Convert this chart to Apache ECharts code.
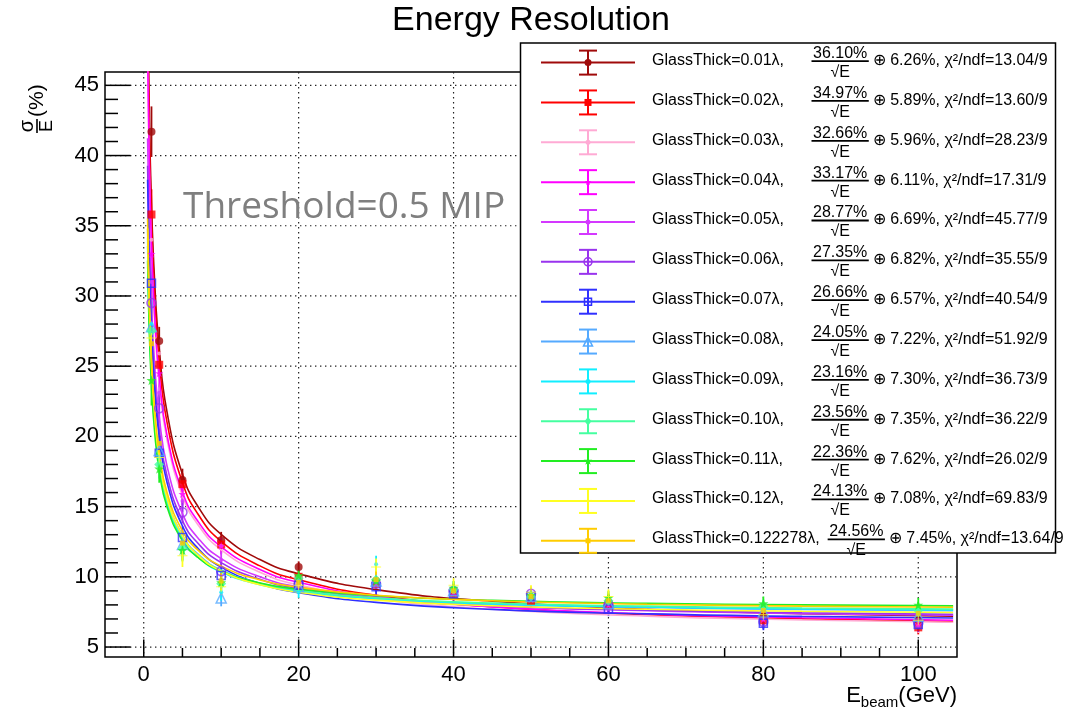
<!DOCTYPE html>
<html>
<head>
<meta charset="utf-8">
<script src="https://cdn.jsdelivr.net/npm/echarts/dist/echarts.min.js"></script>
<style>
html,body{margin:0;padding:0;background:#fff;}
#chart{width:1066px;height:711px;}
</style>
</head>
<body>
<div id="chart"></div>
<script>
// ---------------- DATA ----------------
const energies = [1, 2, 5, 10, 20, 30, 40, 50, 60, 80, 100];
const errBars = [1.8, 1.0, 0.8, 0.6, 0.4, 0.6, 0.5, 0.5, 0.5, 0.5, 0.5];

const thickLabels = ['0.01', '0.02', '0.03', '0.04', '0.05', '0.06', '0.07', '0.08', '0.09', '0.10', '0.11', '0.12', '0.122278'];
const stochTerms = ['36.10', '34.97', '32.66', '33.17', '28.77', '27.35', '26.66', '24.05', '23.16', '23.56', '22.36', '24.13', '24.56'];
const constTerms = ['6.26', '5.89', '5.96', '6.11', '6.69', '6.82', '6.57', '7.22', '7.30', '7.35', '7.62', '7.08', '7.45'];
const chi2Values = ['13.04', '13.60', '28.23', '17.31', '45.77', '35.55', '40.54', '51.92', '36.73', '36.22', '26.02', '69.83', '13.64'];

// measured points (sigma/E in %) at each beam energy
const pts001 = [41.7, 26.8, 16.9, 12.6, 10.7, 9.7, 9.0, 8.5, 8.2, 7.2, 6.9];
const pts002 = [35.8, 25.1, 16.6, 12.3, 10.0, 9.5, 8.8, 8.3, 8.0, 6.9, 6.4];
const pts003 = [34.0, 25.9, 15.9, 12.2, 9.9, 9.6, 8.9, 8.4, 8.0, 7.0, 6.5];
const pts004 = [33.0, 24.5, 15.9, 12.2, 9.8, 9.5, 8.9, 8.4, 8.0, 7.0, 6.6];
const pts005 = [31.0, 23.1, 15.4, 11.2, 9.6, 9.6, 9.0, 8.7, 8.1, 7.0, 6.8];
const pts006 = [29.5, 22.0, 14.6, 10.4, 9.5, 9.5, 9.0, 8.8, 8.0, 6.8, 6.7];
const pts007 = [30.9, 18.8, 12.8, 10.1, 9.4, 9.3, 8.8, 8.6, 7.7, 6.7, 6.6];
const pts008 = [27.8, 19.0, 12.3, 8.5, 9.3, 9.7, 9.0, 8.6, 8.1, 7.5, 7.2];
const pts009 = [28.0, 18.5, 12.2, 8.9, 8.9, 10.9, 9.2, 8.7, 8.3, 7.6, 7.3];
const pts010 = [27.5, 18.0, 12.0, 9.5, 9.9, 9.8, 9.1, 8.6, 8.3, 7.9, 7.6];
const pts011 = [24.0, 17.7, 11.9, 9.6, 10.1, 9.7, 9.2, 8.7, 8.5, 8.1, 8.0];
const pts012 = [27.0, 18.5, 11.5, 9.3, 9.4, 10.7, 9.4, 8.9, 8.6, 7.3, 6.9];
const pts013 = [26.6, 19.5, 12.4, 9.7, 9.6, 9.8, 9.0, 8.6, 8.3, 7.6, 7.4];

// fit curves read at these beam energies
const fitE = [0.5, 0.7, 1, 1.4, 2, 3, 5, 7, 10, 15, 20, 30, 45, 65, 85, 104.5];
const fit001 = [51.44, 43.60, 36.64, 31.15, 26.28, 21.76, 17.31, 15.01, 13.02, 11.23, 10.22, 9.09, 8.26, 7.69, 7.38, 7.19];
const fit002 = [49.80, 42.21, 35.46, 30.14, 25.42, 21.03, 16.71, 14.47, 12.53, 10.78, 9.79, 8.69, 7.87, 7.31, 7.01, 6.81];
const fit003 = [46.57, 39.49, 33.20, 28.24, 23.85, 19.78, 15.77, 13.71, 11.92, 10.32, 9.42, 8.43, 7.69, 7.20, 6.93, 6.76];
const fit004 = [47.30, 40.11, 33.73, 28.69, 24.24, 20.10, 16.04, 13.95, 12.14, 10.52, 9.61, 8.60, 7.86, 7.36, 7.09, 6.91];
const fit005 = [41.23, 35.03, 29.54, 25.22, 21.42, 17.91, 14.50, 12.77, 11.30, 10.00, 9.28, 8.51, 7.95, 7.58, 7.38, 7.26];
const fit006 = [39.27, 33.39, 28.19, 24.10, 20.51, 17.20, 14.00, 12.39, 11.01, 9.82, 9.16, 8.45, 7.94, 7.62, 7.44, 7.33];
const fit007 = [38.27, 32.54, 27.46, 23.47, 19.96, 16.74, 13.62, 12.03, 10.69, 9.52, 8.87, 8.18, 7.68, 7.36, 7.18, 7.07];
const fit008 = [34.77, 29.64, 25.11, 21.57, 18.47, 15.65, 12.95, 11.61, 10.48, 9.52, 9.00, 8.45, 8.06, 7.81, 7.67, 7.59];
const fit009 = [33.56, 28.63, 24.28, 20.89, 17.93, 15.23, 12.67, 11.40, 10.34, 9.44, 8.95, 8.44, 8.07, 7.85, 7.72, 7.64];
const fit010 = [34.12, 29.10, 24.68, 21.22, 18.21, 15.46, 12.85, 11.55, 10.46, 9.54, 9.04, 8.51, 8.14, 7.91, 7.78, 7.70];
const fit011 = [32.53, 27.79, 23.62, 20.38, 17.55, 14.99, 12.57, 11.38, 10.40, 9.56, 9.12, 8.65, 8.32, 8.11, 8.00, 7.93];
const fit012 = [34.85, 29.70, 25.15, 21.59, 18.47, 15.63, 12.91, 11.55, 10.41, 9.43, 8.90, 8.34, 7.94, 7.69, 7.55, 7.46];
const fit013 = [35.52, 30.29, 25.67, 22.05, 18.90, 16.02, 13.27, 11.90, 10.76, 9.78, 9.26, 8.69, 8.30, 8.05, 7.91, 7.83];

// axis ticks
const xMajorTicks = [0, 20, 40, 60, 80, 100];
const xMinorTicks = [5, 10, 15, 25, 30, 35, 45, 50, 55, 65, 70, 75, 85, 90, 95];
const yMajorTicks = [5, 10, 15, 20, 25, 30, 35, 40, 45];
const yMinorTicks = [6, 7, 8, 9, 11, 12, 13, 14, 16, 17, 18, 19, 21, 22, 23, 24, 26, 27, 28, 29, 31, 32, 33, 34, 36, 37, 38, 39, 41, 42, 43, 44];

const pointSets = [pts001, pts002, pts003, pts004, pts005, pts006, pts007, pts008, pts009, pts010, pts011, pts012, pts013];
const fitSets = [fit001, fit002, fit003, fit004, fit005, fit006, fit007, fit008, fit009, fit010, fit011, fit012, fit013];

// ---------------- STYLE ----------------
const colors = ['#a00a0a', '#ff0000', '#ffaad4', '#ff00ff', '#d438ff', '#9933ee', '#3030ff', '#55aaff', '#11eeff', '#44ffa0', '#22ee22', '#ffff22', '#ffcc00'];
const markerStyles = [
  {shape: 'circle', size: 8},
  {shape: 'rect', size: 8},
  {shape: 'circle', size: 4},
  {shape: 'star', size: 8},
  {shape: 'circle', size: 4},
  {shape: 'circle', size: 9, open: true},
  {shape: 'rect', size: 8, open: true},
  {shape: 'triangle', size: 10, open: true},
  {shape: 'circle', size: 4},
  {shape: 'diamond', size: 10},
  {shape: 'star', size: 10},
  {shape: 'plus', size: 10},
  {shape: 'rect', size: 5}
];
const FONT = "'Liberation Sans', Arial, Helvetica, sans-serif";
const X_MIN = -5, X_MAX = 105, Y_MIN = 4.29, Y_MAX = 45.95;
const G = {left: 105, top: 72, width: 852, height: 585};

const STAR_PATH = 'path://M0,-10L2.35,-3.24L9.51,-3.09L3.8,1.24L5.88,8.09L0,4L-5.88,8.09L-3.8,1.24L-9.51,-3.09L-2.35,-3.24Z';
const PLUS_PATH = 'path://M-1,-10L1,-10L1,-1L10,-1L10,1L1,1L1,10L-1,10L-1,1L-10,1L-10,-1L-1,-1Z';
function ecSymbol(s) {
  if (s === 'star') return STAR_PATH;
  if (s === 'plus') return PLUS_PATH;
  return s;
}

const mctx = document.createElement('canvas').getContext('2d');
function textW(t, size) { mctx.font = size + 'px ' + FONT; return mctx.measureText(t).width; }

// ---------------- SERIES ----------------
const series = [];

function tickSeries(values, kind) {
  return {
    type: 'custom', silent: true, clip: false, z: 1,
    data: values.map(v => kind[0] === 'x' ? [v, Y_MIN] : [X_MIN, v]),
    encode: {x: 0, y: 1},
    renderItem: function (params, api) {
      const children = [];
      if (kind === 'xMajor' || kind === 'xMinor') {
        const v = api.value(0);
        const b = api.coord([v, Y_MIN]);
        const t = api.coord([v, Y_MAX]);
        if (kind === 'xMajor') {
          children.push({type: 'line', shape: {x1: b[0], y1: t[1], x2: b[0], y2: b[1]}, style: {stroke: '#222', lineWidth: 1.2, lineDash: [1.4, 3.6]}});
          children.push({type: 'line', shape: {x1: b[0], y1: b[1], x2: b[0], y2: b[1] - 17.5}, style: {stroke: '#000', lineWidth: 1.5}});
          children.push({type: 'text', x: b[0], y: 675, style: {text: String(v), fontSize: 22, fontFamily: FONT, fill: '#000', align: 'center', verticalAlign: 'middle'}});
        } else {
          children.push({type: 'line', shape: {x1: b[0], y1: b[1], x2: b[0], y2: b[1] - 9}, style: {stroke: '#000', lineWidth: 1.5}});
        }
      } else {
        const v = api.value(1);
        const l = api.coord([X_MIN, v]);
        const r = api.coord([X_MAX, v]);
        if (kind === 'yMajor') {
          children.push({type: 'line', shape: {x1: l[0], y1: l[1], x2: r[0], y2: l[1]}, style: {stroke: '#222', lineWidth: 1.2, lineDash: [1.4, 3.6]}});
          children.push({type: 'line', shape: {x1: l[0], y1: l[1], x2: l[0] + 25.5, y2: l[1]}, style: {stroke: '#000', lineWidth: 1.5}});
          children.push({type: 'text', x: 99, y: l[1], style: {text: String(v), fontSize: 22, fontFamily: FONT, fill: '#000', align: 'right', verticalAlign: 'middle'}});
        } else {
          children.push({type: 'line', shape: {x1: l[0], y1: l[1], x2: l[0] + 13, y2: l[1]}, style: {stroke: '#000', lineWidth: 1.5}});
        }
      }
      return {type: 'group', children: children};
    }
  };
}
series.push(tickSeries(xMajorTicks, 'xMajor'));
series.push(tickSeries(xMinorTicks, 'xMinor'));
series.push(tickSeries(yMajorTicks, 'yMajor'));
series.push(tickSeries(yMinorTicks, 'yMinor'));

pointSets.forEach(function (pts, i) {
  const c = colors[i];
  const m = markerStyles[i];
  series.push({
    type: 'line', name: 'fit' + i, silent: true, z: 3,
    data: fitE.map((e, k) => [e, fitSets[i][k]]),
    showSymbol: false, smooth: 0.5,
    lineStyle: {color: c, width: 1.6}, itemStyle: {color: c}
  });
  series.push({
    type: 'custom', silent: true, z: 3,
    data: energies.map((e, k) => [e, pts[k], errBars[k]]),
    encode: {x: 0, y: 1},
    renderItem: function (params, api) {
      const x = api.value(0), y = api.value(1), er = api.value(2);
      const a = api.coord([x, y - er]), b = api.coord([x, y + er]);
      return {type: 'line', shape: {x1: a[0], y1: a[1], x2: b[0], y2: b[1]}, style: {stroke: c, lineWidth: 1.8}};
    }
  });
  series.push({
    type: 'scatter', silent: true, z: 3,
    data: energies.map((e, k) => [e, pts[k]]),
    symbol: ecSymbol(m.shape), symbolSize: m.size,
    itemStyle: m.open ? {color: 'rgba(255,255,255,0)', borderColor: c, borderWidth: 1.5} : {color: c}
  });
});

// ---------------- GRAPHIC (titles, legend) ----------------
const graphic = [];
graphic.push({type: 'text', x: 531, y: 21, z: 50, style: {text: 'Energy Resolution', fontSize: 34, fontFamily: FONT, fill: '#000', align: 'center', verticalAlign: 'middle'}});
graphic.push({type: 'text', x: 183, y: 207, z: 50, style: {text: 'Threshold=0.5 MIP', fontSize: 37, fontFamily: "'Open Sans', 'Noto Sans', sans-serif", fill: '#7f7f7f', align: 'left', verticalAlign: 'middle'}});

// y-axis title: sigma / E (%)
graphic.push({
  type: 'group', x: 37, y: 126, rotation: Math.PI / 2, z: 50,
  children: [
    {type: 'text', x: 0, y: -10, style: {text: 'σ', fontSize: 20, fontFamily: FONT, fill: '#000', align: 'center', verticalAlign: 'middle'}},
    {type: 'line', shape: {x1: -7, y1: 0, x2: 7, y2: 0}, style: {stroke: '#000', lineWidth: 1.6}},
    {type: 'text', x: 0, y: 10, style: {text: 'E', fontSize: 18, fontFamily: FONT, fill: '#000', align: 'center', verticalAlign: 'middle'}},
    {type: 'text', x: 9, y: 0, style: {text: '(%)', fontSize: 21, fontFamily: FONT, fill: '#000', align: 'left', verticalAlign: 'middle'}}
  ]
});

// x-axis title: E_beam(GeV)
(function () {
  const right = 957;
  const wG = textW('(GeV)', 22), wB = textW('beam', 15);
  graphic.push({type: 'text', x: right, y: 696, z: 50, style: {text: '(GeV)', fontSize: 22, fontFamily: FONT, fill: '#000', align: 'right', verticalAlign: 'middle'}});
  graphic.push({type: 'text', x: right - wG, y: 703, z: 50, style: {text: 'beam', fontSize: 15, fontFamily: FONT, fill: '#000', align: 'right', verticalAlign: 'middle'}});
  graphic.push({type: 'text', x: right - wG - wB, y: 696, z: 50, style: {text: 'E', fontSize: 22, fontFamily: FONT, fill: '#000', align: 'right', verticalAlign: 'middle'}});
})();

function legendMarker(shape, cx, cy, size, color, open) {
  const st = open ? {fill: 'rgba(255,255,255,0)', stroke: color, lineWidth: 1.5} : {fill: color};
  const h = size / 2;
  if (shape === 'circle') return {type: 'circle', z: 52, shape: {cx: cx, cy: cy, r: h}, style: st};
  if (shape === 'rect') return {type: 'rect', z: 52, shape: {x: cx - h, y: cy - h, width: size, height: size}, style: st};
  if (shape === 'triangle') return {type: 'polygon', z: 52, shape: {points: [[cx, cy - h], [cx + h, cy + h], [cx - h, cy + h]]}, style: st};
  if (shape === 'diamond') return {type: 'polygon', z: 52, shape: {points: [[cx, cy - h], [cx + h * 0.75, cy], [cx, cy + h], [cx - h * 0.75, cy]]}, style: st};
  if (shape === 'star') {
    const pts = [];
    for (let k = 0; k < 10; k++) {
      const r = k % 2 === 0 ? h : h * 0.4;
      const a = -Math.PI / 2 + k * Math.PI / 5;
      pts.push([cx + r * Math.cos(a), cy + r * Math.sin(a)]);
    }
    return {type: 'polygon', z: 52, shape: {points: pts}, style: st};
  }
  return {type: 'group', z: 52, children: [
    {type: 'line', z: 52, shape: {x1: cx - h, y1: cy, x2: cx + h, y2: cy}, style: {stroke: color, lineWidth: 2}},
    {type: 'line', z: 52, shape: {x1: cx, y1: cy - h, x2: cx, y2: cy + h}, style: {stroke: color, lineWidth: 2}}
  ]};
}

(function () {
  const boxX = 520.5, boxY = 43, boxW = 535, boxH = 510;
  graphic.push({type: 'rect', z: 50, shape: {x: boxX, y: boxY, width: boxW, height: boxH}, style: {fill: '#fff', stroke: '#000', lineWidth: 1.5}});
  const row0 = 62.6, dy = 39.85;
  thickLabels.forEach(function (lab, i) {
    const y = row0 + dy * i;
    const c = colors[i];
    const m = markerStyles[i];
    graphic.push({type: 'line', z: 51, shape: {x1: 541, y1: y, x2: 635, y2: y}, style: {stroke: c, lineWidth: 2}});
    graphic.push({type: 'line', z: 51, shape: {x1: 588, y1: y - 12, x2: 588, y2: y + 12}, style: {stroke: c, lineWidth: 2}});
    graphic.push({type: 'line', z: 51, shape: {x1: 579, y1: y - 12, x2: 597, y2: y - 12}, style: {stroke: c, lineWidth: 2}});
    graphic.push({type: 'line', z: 51, shape: {x1: 579, y1: y + 12, x2: 597, y2: y + 12}, style: {stroke: c, lineWidth: 2}});
    graphic.push(legendMarker(m.shape, 588, y, Math.max(m.size - 1, 5), c, m.open));
    const t1 = 'GlassThick=' + lab + 'λ,';
    graphic.push({type: 'text', z: 51, x: 652, y: y - 2, style: {text: t1, fontSize: 16, fontFamily: FONT, fill: '#000', align: 'left', verticalAlign: 'middle'}});
    const end1 = 652 + textW(t1, 16);
    const fracX = Math.max(811.5, end1 + 8);
    const num = stochTerms[i] + '%';
    const barW = textW(num, 16) + 3;
    const cx = fracX + barW / 2;
    graphic.push({type: 'text', z: 51, x: cx, y: y - 9, style: {text: num, fontSize: 16, fontFamily: FONT, fill: '#000', align: 'center', verticalAlign: 'middle'}});
    graphic.push({type: 'line', z: 51, shape: {x1: fracX, y1: y - 1.5, x2: fracX + barW, y2: y - 1.5}, style: {stroke: '#000', lineWidth: 1.8}});
    graphic.push({type: 'text', z: 51, x: cx, y: y + 10, style: {text: '√E', fontSize: 16, fontFamily: FONT, fill: '#000', align: 'center', verticalAlign: 'middle'}});
    const rest = '⊕ ' + constTerms[i] + '%, χ²/ndf=' + chi2Values[i] + '/9';
    graphic.push({type: 'text', z: 51, x: fracX + barW + 4, y: y - 2, style: {text: rest, fontSize: 16, fontFamily: FONT, fill: '#000', align: 'left', verticalAlign: 'middle'}});
  });
})();

const chart = echarts.init(document.getElementById('chart'), null, {renderer: 'canvas'});
chart.setOption({
  animation: false,
  backgroundColor: '#fff',
  grid: {left: G.left, top: G.top, width: G.width, height: G.height, show: true, borderColor: '#000', borderWidth: 1.5, backgroundColor: '#fff'},
  xAxis: {type: 'value', min: X_MIN, max: X_MAX, axisLine: {show: false}, axisTick: {show: false}, axisLabel: {show: false}, splitLine: {show: false}},
  yAxis: {type: 'value', min: Y_MIN, max: Y_MAX, axisLine: {show: false}, axisTick: {show: false}, axisLabel: {show: false}, splitLine: {show: false}},
  series: series,
  graphic: graphic
});
</script>
</body>
</html>
